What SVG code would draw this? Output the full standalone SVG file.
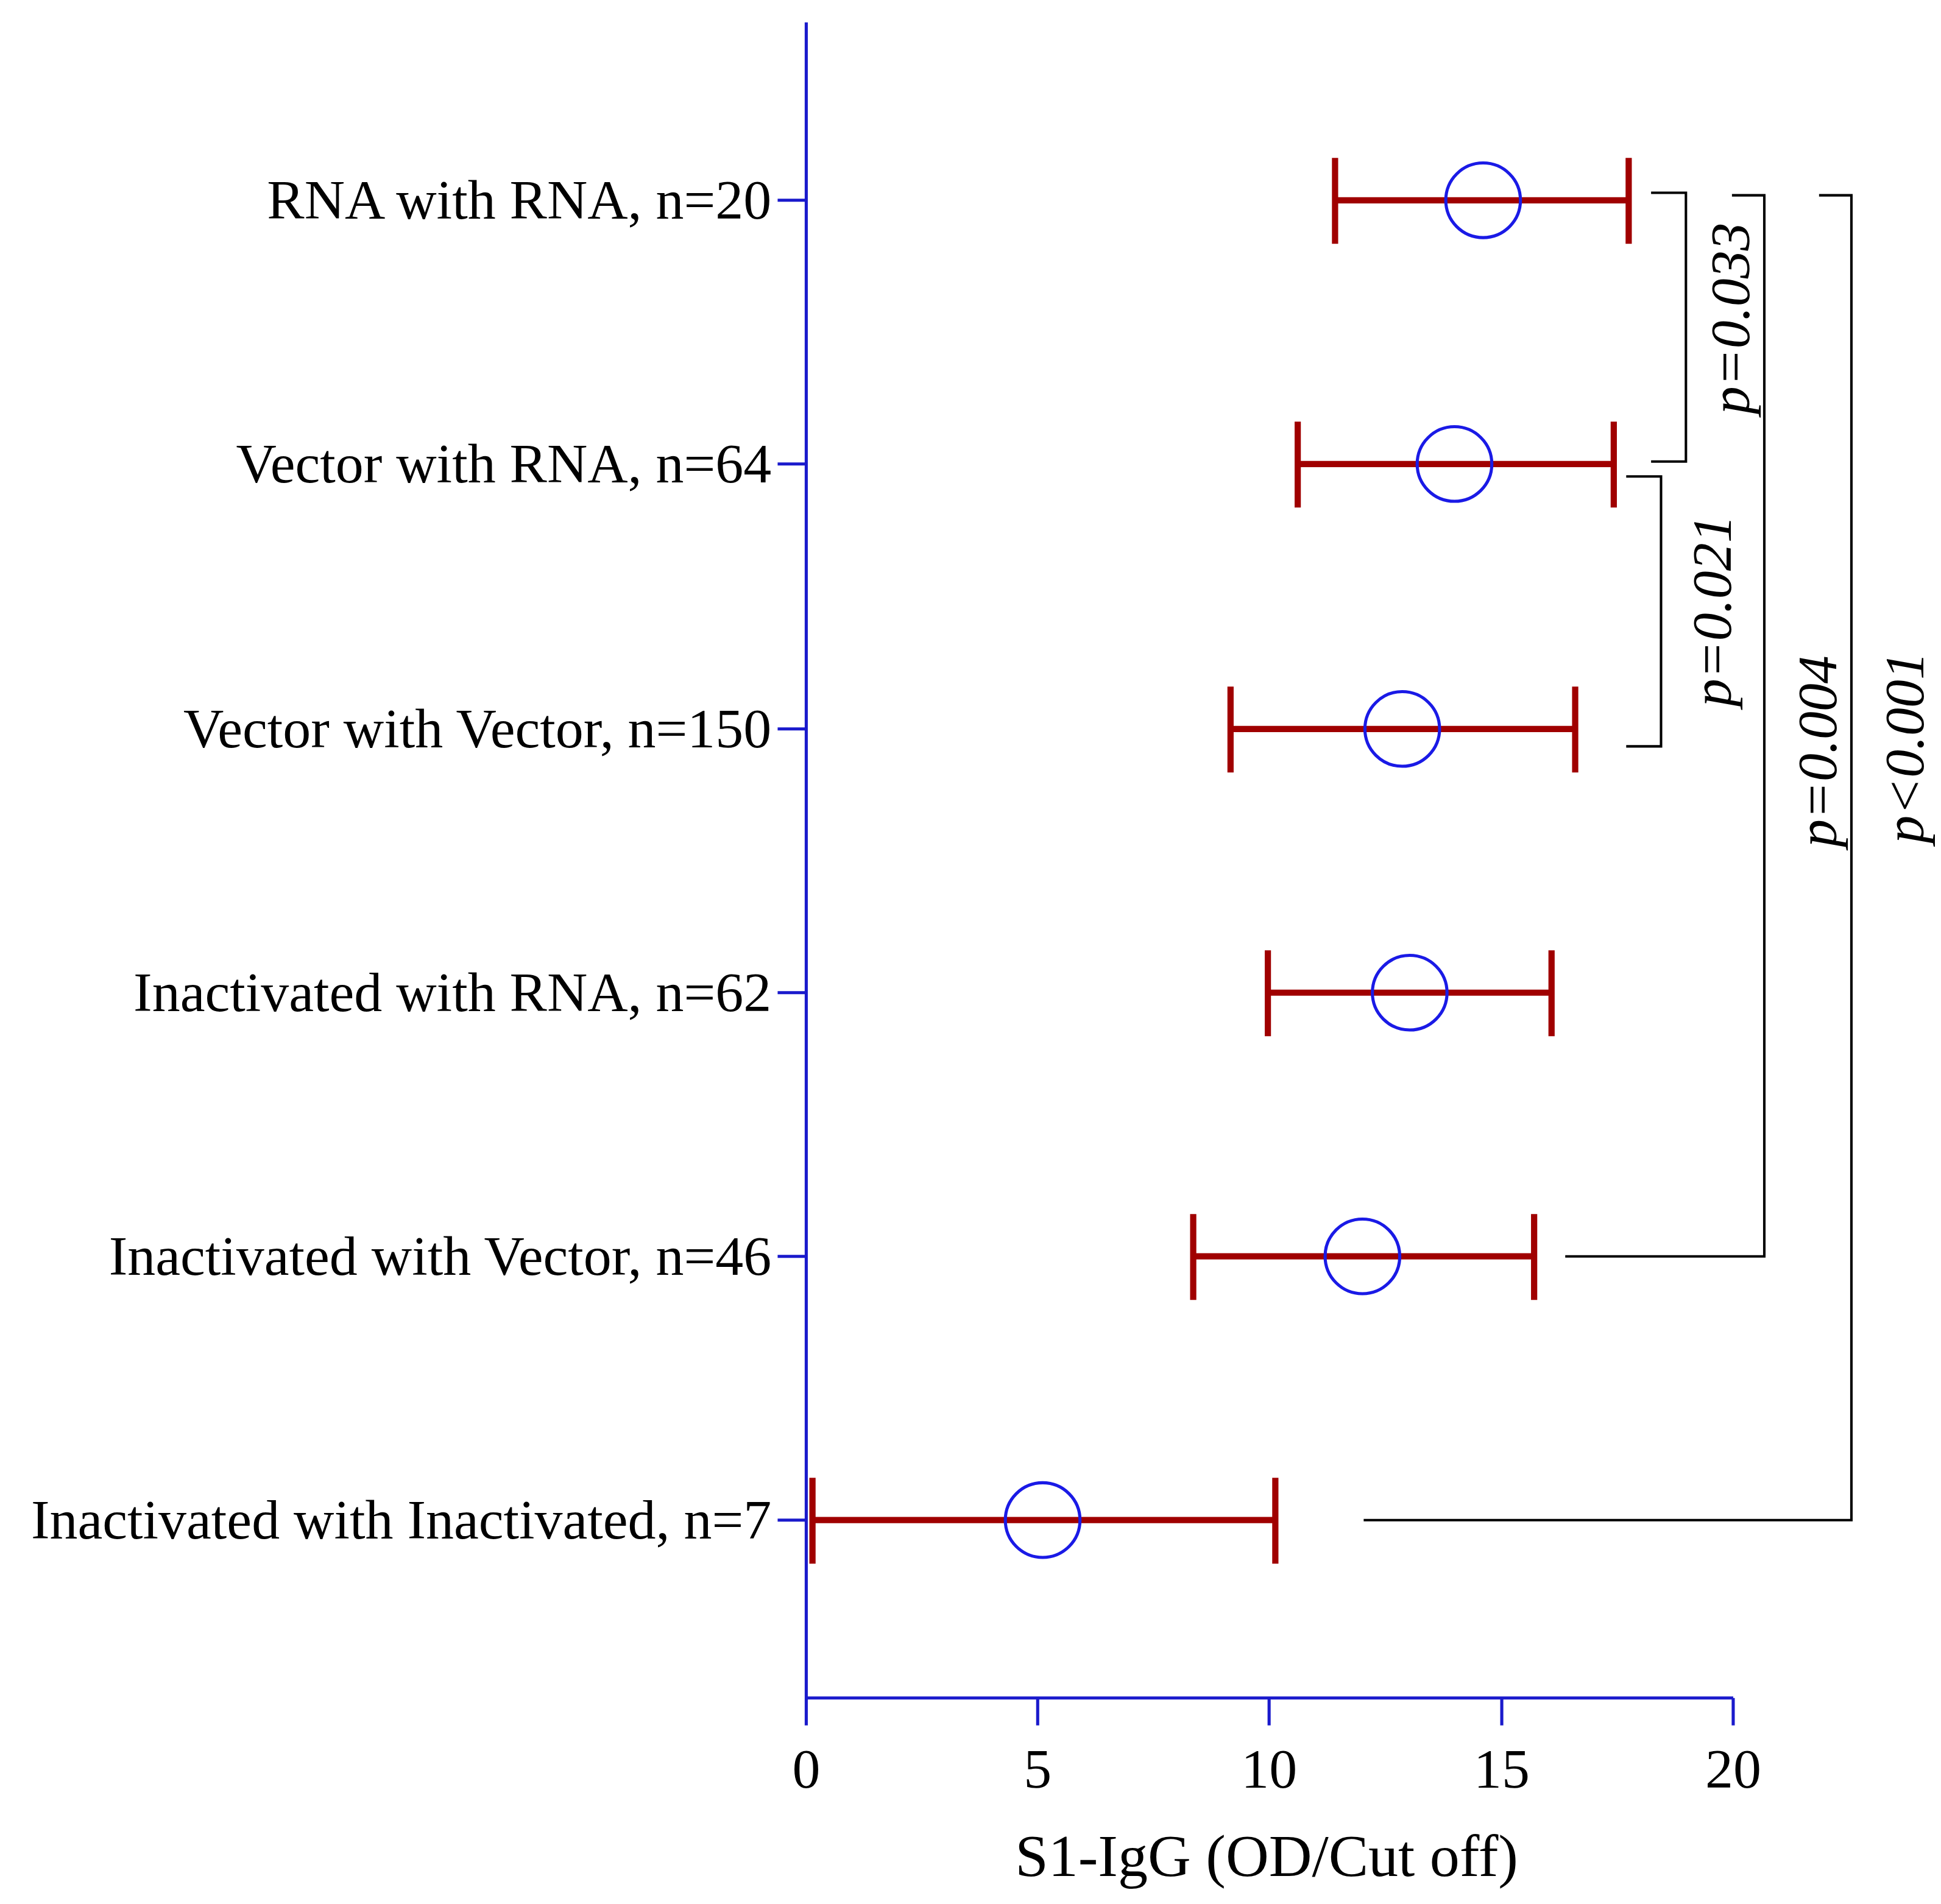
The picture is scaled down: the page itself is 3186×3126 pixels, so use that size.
<svg xmlns="http://www.w3.org/2000/svg" width="3186" height="3126" viewBox="0 0 3186 3126">
<style>
.ax{stroke:#1a1acc;stroke-width:2.5;fill:none}
.bar{stroke:#a00000;stroke-width:5;fill:none}
.pt{stroke:#1a1ae6;stroke-width:2.5;fill:none}
.br{stroke:#000;stroke-width:2;fill:none}
.lb{font-family:"Liberation Serif",serif;font-size:45px;fill:#000}
.tk{font-family:"Liberation Serif",serif;font-size:45px;fill:#000}
.tt{font-family:"Liberation Serif",serif;font-size:48px;fill:#000}
.p{font-family:"Liberation Serif",serif;font-size:45px;font-style:italic;fill:#000}
</style>
<rect width="3186" height="3126" fill="#fff"/>
<g transform="scale(2.0423)">
<g id="axes">
<path class="ax" d="M648 18V1365H1393M648 1365v22M834 1365v22M1020 1365v22M1207 1365v22M1393 1365v22"/>
<path class="ax" d="M625 161h23M625 373h23M625 586h23M625 798h23M625 1010h23M625 1222h23"/>
<g text-anchor="middle">
<text class="tk" x="648" y="1437">0</text><text class="tk" x="834" y="1437">5</text><text class="tk" x="1020" y="1437">10</text><text class="tk" x="1207" y="1437">15</text><text class="tk" x="1393" y="1437">20</text>
<text class="tt" x="1018" y="1508">S1-IgG (OD/Cut off)</text>
</g>
<g class="lb" text-anchor="end">
<text x="620" y="176">RNA with RNA, n=20</text>
<text x="620" y="388">Vector with RNA, n=64</text>
<text x="620" y="601">Vector with Vector, n=150</text>
<text x="620" y="813">Inactivated with RNA, n=62</text>
<text x="620" y="1025">Inactivated with Vector, n=46</text>
<text x="620" y="1237">Inactivated with Inactivated, n=7</text>
</g>
</g>
<g id="r1"><path class="bar" d="M1073 161H1309M1073 127v69M1309 127v69"/><circle class="pt" cx="1192" cy="161" r="30"/></g>
<g id="r2"><path class="bar" d="M1043 373H1297M1043 339v69M1297 339v69"/><circle class="pt" cx="1169" cy="373" r="30"/></g>
<g id="r3"><path class="bar" d="M989 586H1266M989 552v69M1266 552v69"/><circle class="pt" cx="1127" cy="586" r="30"/></g>
<g id="r4"><path class="bar" d="M1019 798H1247M1019 764v69M1247 764v69"/><circle class="pt" cx="1133" cy="798" r="30"/></g>
<g id="r5"><path class="bar" d="M959 1010H1233M959 976v69M1233 976v69"/><circle class="pt" cx="1095" cy="1010" r="30"/></g>
<g id="r6"><path class="bar" d="M653 1222H1025M653 1188v69M1025 1188v69"/><circle class="pt" cx="838" cy="1222" r="30"/></g>
<g id="connectors">
<path class="br" d="M1327 155H1355V371H1327"/>
<path class="br" d="M1307 383H1335V600H1307"/>
<path class="br" d="M1392 157H1418V1010H1258"/>
<path class="br" d="M1462 157H1488V1222H1096"/>
</g>
<g id="plabels" text-anchor="middle">
<text class="p" transform="translate(1406 256) rotate(-90)">p=0.033</text>
<text class="p" transform="translate(1391 491) rotate(-90)">p=0.021</text>
<text class="p" transform="translate(1476 604) rotate(-90)">p=0.004</text>
<text class="p" transform="translate(1546 601) rotate(-90)">p&lt;0.001</text>
</g>
</g>
</svg>
